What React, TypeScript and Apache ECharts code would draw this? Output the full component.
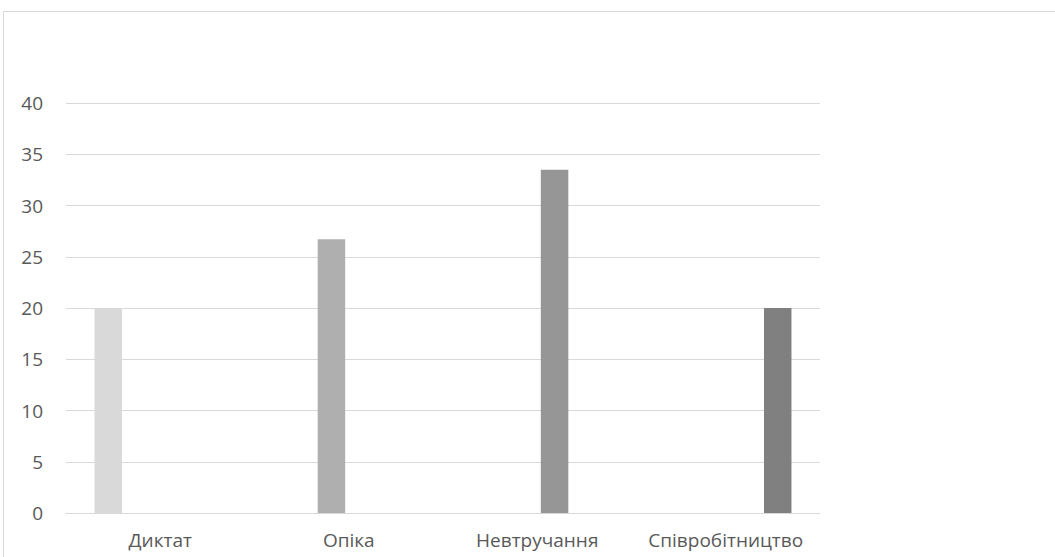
import React, { useEffect, useRef } from "react";
import * as echarts from "echarts";

const categories = ["Диктат", "Опіка", "Невтручання", "Співробітництво"];
const values = [20, 26.7, 33.5, 20];
const colors = ["#D9D9D9", "#AFAFAF", "#969696", "#808080"];
const yTicks = { min: 0, max: 40, interval: 5 };

export default function App() {
  const ref = useRef<HTMLDivElement>(null);
  useEffect(() => {
    if (!ref.current) return;
    const chart = echarts.init(ref.current, undefined, { renderer: "svg" });
    const series = categories.map((name, i) => ({
      name,
      type: "bar",
      barWidth: 27.5,
      barGap: "26%",
      itemStyle: { color: colors[i] },
      data: categories.map((_, j) => (j === i ? values[i] : "-")),
    }));
    chart.setOption({
      animation: false,
      backgroundColor: "#ffffff",
      textStyle: { fontFamily: "Open Sans" },
      grid: { left: 66, right: 235, top: 103, bottom: 44, containLabel: false },
      graphic: [
        {
          type: "rect",
          shape: { x: 3.5, y: 11.5, width: 1200, height: 1000 },
          style: { fill: "none", stroke: "#D9D9D9", lineWidth: 1 },
          silent: true,
        },
      ],
      xAxis: {
        type: "category",
        data: categories,
        axisLine: { show: true, lineStyle: { color: "#D9D9D9", width: 1 } },
        axisTick: { show: false },
        axisLabel: {
          color: "#595959",
          fontSize: 19,
          margin: 17,
          interval: 0,
          hideOverlap: false,
          fontFamily: "Open Sans",
        },
      },
      yAxis: {
        type: "value",
        min: yTicks.min,
        max: yTicks.max,
        interval: yTicks.interval,
        axisLine: { show: false },
        axisTick: { show: false },
        axisLabel: { color: "#595959", fontSize: 19, margin: 23, fontFamily: "Open Sans" },
        splitLine: { lineStyle: { color: "#D9D9D9", width: 1 } },
      },
      series,
    });
    return () => chart.dispose();
  }, []);
  return (
    <div
      ref={ref}
      style={{ position: "fixed", left: 0, top: 0, width: 1055, height: 557, background: "#fff" }}
    />
  );
}
